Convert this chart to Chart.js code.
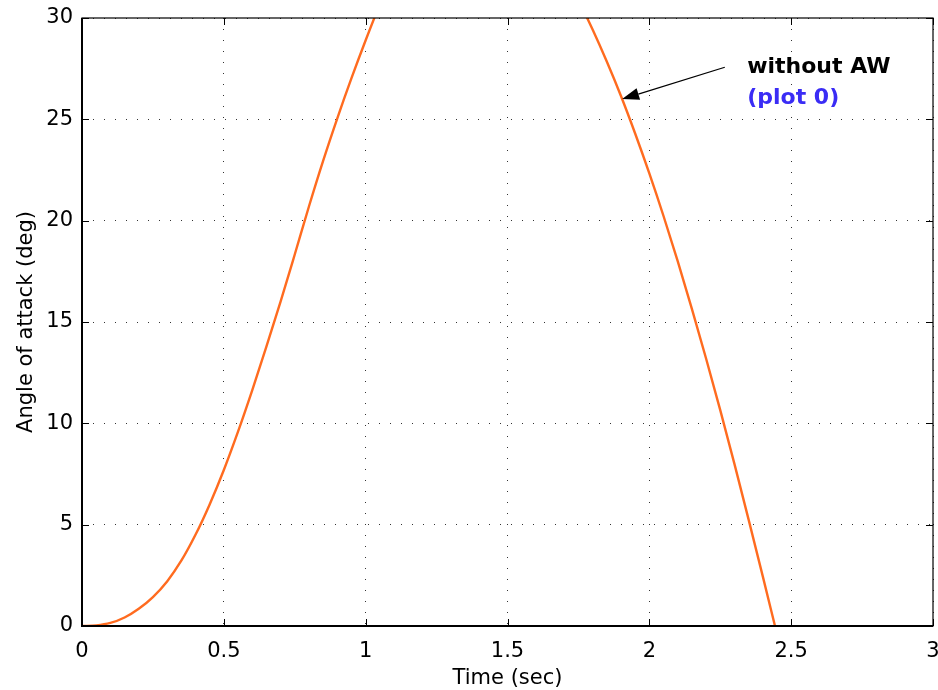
<!DOCTYPE html>
<html>
<head>
<meta charset="utf-8">
<script src="https://cdn.jsdelivr.net/npm/chart.js@4/dist/chart.umd.min.js"></script>
<style>
  html, body { margin: 0; padding: 0; background: #fff; }
  #wrap { width: 938px; height: 690px; }
</style>
</head>
<body>
<div id="wrap"><canvas id="myChart" width="938" height="690"></canvas></div>
<script>
// datos (tiempo en s, angulo en grados)
const tiempo = [0, 0.05, 0.1, 0.15, 0.2, 0.25, 0.3, 0.35, 0.4, 0.45, 0.5, 0.55, 0.6, 0.65, 0.7,
  0.75, 0.8, 0.85, 0.9, 0.95, 1.0, 1.05, 1.1, 1.2, 1.3, 1.4, 1.5, 1.6, 1.7, 1.75, 1.8, 1.85,
  1.9, 1.95, 2.0, 2.05, 2.1, 2.15, 2.2, 2.25, 2.3, 2.35, 2.4, 2.443];
const angulo = [0, 0.03, 0.15, 0.42, 0.85, 1.43, 2.2, 3.22, 4.5, 6.0, 7.7, 9.59, 11.63, 13.78, 16.0,
  18.33, 20.7, 22.95, 25.05, 27.03, 28.9, 30.68, 32.3, 34.7, 36.4, 37.0, 36.5, 34.7, 32.2, 30.88, 29.43, 27.85,
  26.15, 24.3, 22.33, 20.23, 18.0, 15.65, 13.2, 10.65, 8.0, 5.25, 2.45, 0];

const ticksX = [0, 0.5, 1, 1.5, 2, 2.5, 3];
const ticksY = [0, 5, 10, 15, 20, 25, 30];

// anotacion (en coordenadas de datos)
const flechaPunta = [1.904, 26.0];
const flechaCola = [2.266, 27.57];
const notaTextos = ['without AW', '(plot 0)'];
const notaColores = ['#000000', '#3a2cf5'];
const notaX = 2.345;
const notaY = [27.55, 26.05];

const fuente = "'DejaVu Sans', 'Liberation Sans', Arial, sans-serif";

const puntos = tiempo.map((t, i) => ({ x: t, y: angulo[i] }));

// quitar el relleno que Chart.js reserva para las etiquetas de los extremos
function sinRelleno(s, prop, valor) {
  s[prop] = valor;
  s.paddingTop = 0; s.paddingBottom = 0; s.paddingLeft = 0; s.paddingRight = 0;
}

// marco y marcas hacia adentro
const marcoPlugin = {
  id: 'marco',
  afterDraw(chart) {
    const ctx = chart.ctx;
    const a = chart.chartArea;
    const sx = chart.scales.x, sy = chart.scales.y;
    ctx.save();
    ctx.strokeStyle = '#000';
    ctx.lineWidth = 1;
    ticksX.forEach(v => {
      const px = Math.round(sx.getPixelForValue(v)) + 0.5;
      ctx.beginPath();
      ctx.moveTo(px, a.bottom); ctx.lineTo(px, a.bottom - 7);
      ctx.moveTo(px, a.top); ctx.lineTo(px, a.top + 7);
      ctx.stroke();
    });
    ticksY.forEach(v => {
      const py = Math.round(sy.getPixelForValue(v)) + 0.5;
      ctx.beginPath();
      ctx.moveTo(a.left, py); ctx.lineTo(a.left + 7, py);
      ctx.moveTo(a.right, py); ctx.lineTo(a.right - 7, py);
      ctx.stroke();
    });
    ctx.lineWidth = 1.2;
    ctx.strokeRect(a.left, a.top, a.right - a.left, a.bottom - a.top);
    ctx.lineWidth = 2;
    ctx.beginPath();
    ctx.moveTo(a.left, a.top); ctx.lineTo(a.left, a.bottom); ctx.lineTo(a.right, a.bottom);
    ctx.stroke();

    // flecha
    const x1 = sx.getPixelForValue(flechaCola[0]), y1 = sy.getPixelForValue(flechaCola[1]);
    const x2 = sx.getPixelForValue(flechaPunta[0]), y2 = sy.getPixelForValue(flechaPunta[1]);
    const ang = Math.atan2(y2 - y1, x2 - x1);
    const largo = 17, ancho = 6;
    const bx = x2 - largo * Math.cos(ang), by = y2 - largo * Math.sin(ang);
    ctx.lineWidth = 1.3;
    ctx.beginPath();
    ctx.moveTo(x1, y1); ctx.lineTo(bx, by);
    ctx.stroke();
    ctx.fillStyle = '#000';
    ctx.beginPath();
    ctx.moveTo(x2, y2);
    ctx.lineTo(bx + ancho * Math.sin(ang), by - ancho * Math.cos(ang));
    ctx.lineTo(bx - ancho * Math.sin(ang), by + ancho * Math.cos(ang));
    ctx.closePath();
    ctx.fill();

    // texto
    ctx.font = 'bold 22px ' + fuente;
    ctx.textAlign = 'left';
    ctx.textBaseline = 'middle';
    notaTextos.forEach((txt, i) => {
      ctx.fillStyle = notaColores[i];
      ctx.fillText(txt, sx.getPixelForValue(notaX), sy.getPixelForValue(notaY[i]));
    });
    ctx.restore();
  }
};

const ctx = document.getElementById('myChart').getContext('2d');
const myChart = new Chart(ctx, {
  type: 'line',
  data: {
    datasets: [{
      data: puntos,
      borderColor: '#ff6b1f',
      borderWidth: 2.4,
      pointRadius: 0,
      fill: false,
      cubicInterpolationMode: 'monotone'
    }]
  },
  options: {
    responsive: false,
    animation: false,
    layout: { padding: { top: 18, right: 5, left: 0, bottom: 0 } },
    plugins: { legend: { display: false }, tooltip: { enabled: false } },
    scales: {
      x: {
        type: 'linear',
        min: 0, max: 3,
        afterFit: s => sinRelleno(s, 'height', 64),
        afterBuildTicks: s => { s.ticks = ticksX.map(v => ({ value: v })); },
        grid: { color: 'rgba(0,0,0,0.8)', lineWidth: 1, drawTicks: false },
        border: { display: false, dash: [1, 10] },
        ticks: { color: '#000', padding: 13, maxRotation: 0, callback: v => String(v), font: { family: fuente, size: 21 } },
        title: { display: true, text: 'Time (sec)', color: '#000', padding: { top: 0, bottom: -1 }, font: { family: fuente, size: 21 } }
      },
      y: {
        min: 0, max: 30,
        afterFit: s => sinRelleno(s, 'width', 82),
        afterBuildTicks: s => { s.ticks = ticksY.map(v => ({ value: v })); },
        grid: { color: 'rgba(0,0,0,0.8)', lineWidth: 1, drawTicks: false },
        border: { display: false, dash: [1, 10] },
        ticks: { color: '#000', padding: 9, callback: v => String(v), font: { family: fuente, size: 21 } },
        title: { display: true, text: 'Angle of attack (deg)', color: '#000', padding: { top: 14, bottom: 0 }, font: { family: fuente, size: 21 } }
      }
    }
  },
  plugins: [marcoPlugin]
});
</script>
</body>
</html>
